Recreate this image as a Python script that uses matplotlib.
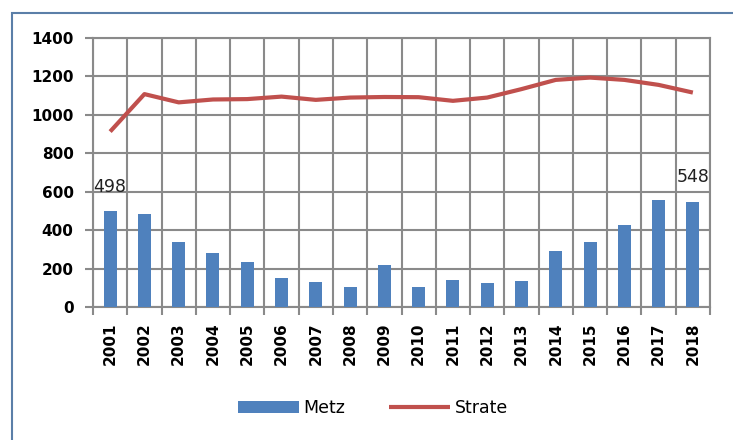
import numpy as np
import matplotlib
matplotlib.use("Agg")
import matplotlib.pyplot as plt
from matplotlib.patches import Rectangle

# ----- Data -----
years = [str(y) for y in range(2001, 2019)]
metz = [498, 482, 337, 283, 236, 149, 130, 106, 219, 106, 141, 123, 135, 293, 338, 427, 557, 548]
strate = [913, 1108, 1065, 1080, 1082, 1095, 1078, 1090, 1093, 1092, 1073, 1090, 1134, 1182, 1194, 1182, 1156, 1116]
labelled = {0: 498, 17: 548}

bar_color = "#4F81BD"
line_color = "#C0504D"
grid_color = "#8A8A8A"

fig = plt.figure(figsize=(7.33, 4.4), dpi=100)
ax = fig.add_axes([93 / 733, 1 - 307 / 440, (710 - 93) / 733, (307 - 38) / 440])

# outer frame, cut off at the right and bottom like the screenshot
fig.patches.append(Rectangle((12 / 733, -0.05), 1.05, 1 - 13 / 440 + 0.05,
                             transform=fig.transFigure, fill=False,
                             edgecolor="#5B7FA8", linewidth=1.5))

x = np.arange(len(years))
bars = ax.bar(x, metz, width=0.38, color=bar_color, zorder=3, label="Metz")
ax.plot(x, strate, color=line_color, linewidth=3.0, zorder=4, label="Strate",
        solid_capstyle="butt", solid_joinstyle="round")

for i, v in labelled.items():
    ax.annotate(str(v), (x[i], v), xytext=(0, 11), textcoords="offset points",
                ha="center", va="bottom", fontsize=12.5, color="#222222")

ax.set_xlim(-0.5, len(years) - 0.5)
ax.set_ylim(0, 1400)
ax.set_yticks(range(0, 1401, 200))
ax.set_xticks(x)
ax.set_xticklabels(years, rotation=90, fontsize=11, fontweight="bold")
ax.set_xticks(np.arange(-0.5, len(years)), minor=True)
for lab in ax.get_yticklabels():
    lab.set_fontsize(11)
    lab.set_fontweight("bold")

ax.tick_params(axis="x", which="major", length=0, pad=11)
ax.tick_params(axis="x", which="minor", length=6, color=grid_color, width=1.5)
ax.tick_params(axis="y", length=6, color=grid_color, width=1.5, pad=8)

ax.grid(True, axis="y", which="major", color=grid_color, linewidth=1.5, zorder=0)
ax.grid(True, axis="x", which="minor", color=grid_color, linewidth=1.5, zorder=0)
ax.set_axisbelow(True)
for s in ax.spines.values():
    s.set_color(grid_color)
    s.set_linewidth(1.5)

fig.legend(handles=[bars, ax.lines[0]], labels=["Metz", "Strate"],
           loc="center", bbox_to_anchor=(373 / 733, 1 - 408 / 440), ncol=2,
           frameon=False, fontsize=12.5, handlelength=3.5, handletextpad=0.3,
           columnspacing=2.5)

fig.savefig("out.png", dpi=100)
